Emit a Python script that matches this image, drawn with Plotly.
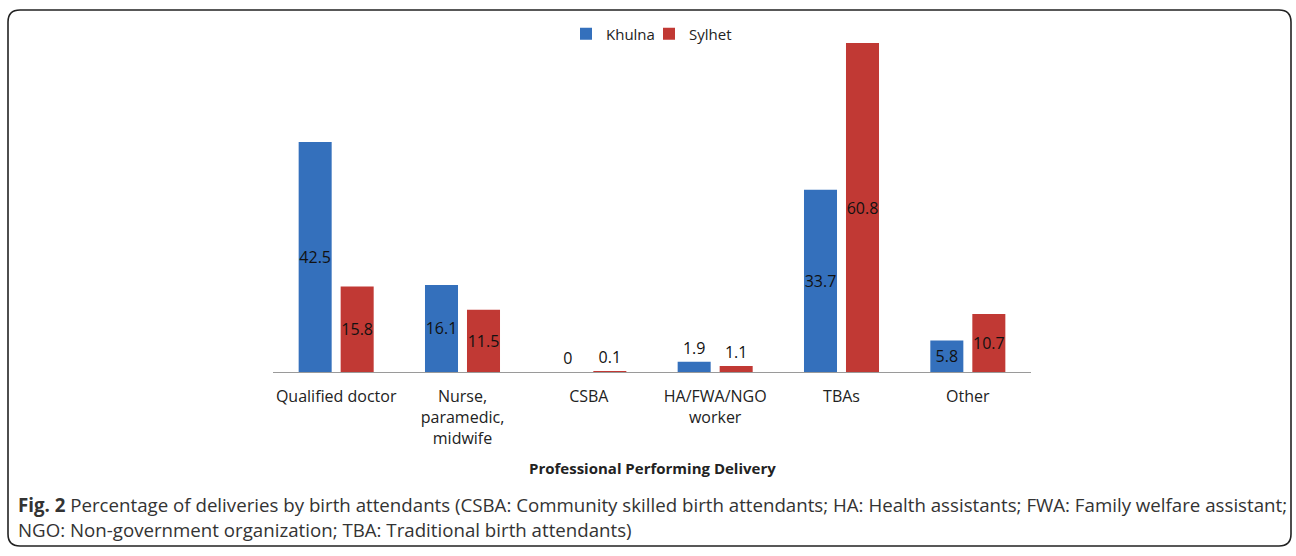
import plotly.graph_objects as go

categories = ["Qualified doctor", "Nurse,<br>paramedic,<br>midwife", "CSBA",
              "HA/FWA/NGO<br>worker", "TBAs", "Other"]
khulna = [42.5, 16.1, 0, 1.9, 33.7, 5.8]
sylhet = [15.8, 11.5, 0.1, 1.1, 60.8, 10.7]
series_names = ["Khulna", "Sylhet"]

FONT = "Open Sans"
W, H = 1296, 556
pl, pr, pt, pb = 273, 1031, 43, 372

def positions(vals):
    return ["inside" if v >= 5 else "outside" for v in vals]

fig = go.Figure()
for name, vals, col in [(series_names[0], khulna, "#3470BC"),
                        (series_names[1], sylhet, "#C13934")]:
    fig.add_trace(go.Bar(
        name=name, x=categories, y=vals,
        marker=dict(color=col, line=dict(width=0)),
        text=[str(v) for v in vals], textposition=positions(vals),
        insidetextanchor="middle", textangle=0, constraintext="none",
        textfont=dict(family=FONT, size=16, color="#111111"),
        cliponaxis=False,
    ))

def tx(x): return (x - pl) / (pr - pl)
def ty(y): return (pb - y) / (pb - pt)

fig.update_layout(
    width=W, height=H,
    margin=dict(l=pl, r=W - pr, t=pt, b=H - pb, autoexpand=False),
    paper_bgcolor="white", plot_bgcolor="white",
    barmode="group", bargap=0.335, bargroupgap=0.214,
    font=dict(family=FONT, size=16, color="#222222"),
    showlegend=True,
    legend=dict(orientation="h", x=tx(649), xref="paper", xanchor="center",
                y=1 - 34 / H, yref="container", yanchor="middle",
                font=dict(family=FONT, size=15, color="#222222"),
                traceorder="normal", itemwidth=30, entrywidth=38),
    xaxis=dict(showline=True, linecolor="#9a9a9a", linewidth=1.2,
               showgrid=False, ticks="", tickfont=dict(family=FONT, size=16, color="#222222"),
               ticklabelstandoff=10, fixedrange=True),
    yaxis=dict(visible=False, range=[0, 60.8], fixedrange=True),
)

x0, x1, y0, y1, r = 8, 1291, 10, 546, 12
path_paper = (f"M {tx(x0+r)},{ty(y0)} L {tx(x1-r)},{ty(y0)} Q {tx(x1)},{ty(y0)} {tx(x1)},{ty(y0+r)} "
              f"L {tx(x1)},{ty(y1-r)} Q {tx(x1)},{ty(y1)} {tx(x1-r)},{ty(y1)} L {tx(x0+r)},{ty(y1)} "
              f"Q {tx(x0)},{ty(y1)} {tx(x0)},{ty(y1-r)} L {tx(x0)},{ty(y0+r)} Q {tx(x0)},{ty(y0)} {tx(x0+r)},{ty(y0)} Z")
fig.add_shape(type="path", xref="paper", yref="paper", path=path_paper,
              line=dict(color="#222222", width=1.6), layer="below")

fig.add_annotation(text="<b>Professional Performing Delivery</b>",
                   xref="paper", yref="paper", x=tx(652), y=ty(468),
                   xanchor="center", yanchor="middle", showarrow=False,
                   font=dict(family=FONT, size=15, color="#222222"))

fig.add_annotation(text="<b>Fig. 2</b> Percentage of deliveries by birth attendants (CSBA: Community skilled birth attendants; HA: Health assistants; FWA: Family welfare assistant;",
                   xref="paper", yref="paper", x=tx(16), y=ty(504),
                   xanchor="left", yanchor="middle", showarrow=False, align="left",
                   font=dict(family=FONT, size=18.7, color="#333333"))
fig.add_annotation(text="NGO: Non-government organization; TBA: Traditional birth attendants)",
                   xref="paper", yref="paper", x=tx(16), y=ty(529),
                   xanchor="left", yanchor="middle", showarrow=False, align="left",
                   font=dict(family=FONT, size=18.7, color="#333333"))

fig.write_html("out.html", config={"displayModeBar": False},
               post_script="document.body.style.margin='0';document.body.style.overflow='hidden';")
